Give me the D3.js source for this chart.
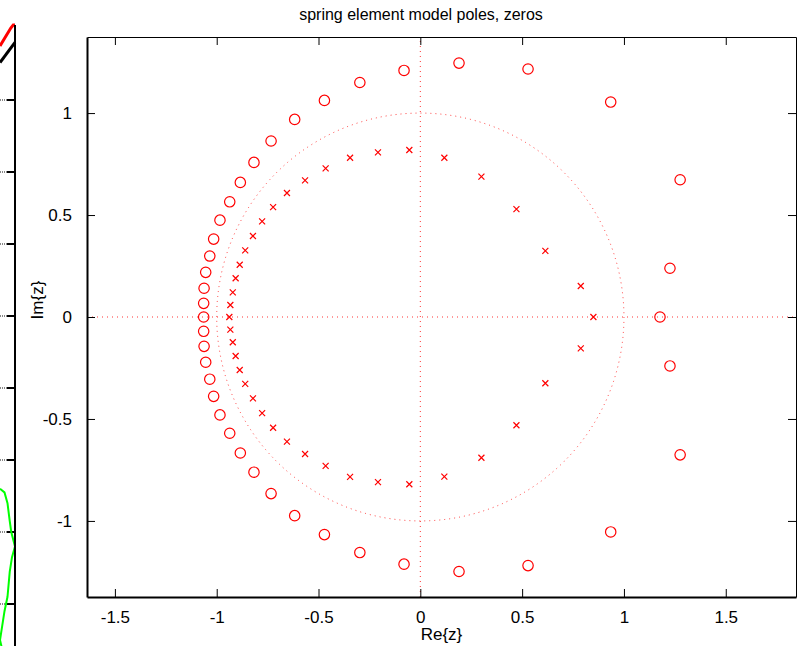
<!DOCTYPE html>
<html>
<head>
<meta charset="utf-8">
<script src="https://cdn.jsdelivr.net/npm/d3@7"></script>
<style>
  html, body { margin: 0; padding: 0; background: #fff; }
  svg { display: block; }
  text { font-family: "Liberation Sans", Arial, Helvetica, sans-serif; }
</style>
</head>
<body>
<svg id="chart" width="802" height="646"></svg>
<script>
// ---- Data ----
const titleText = "spring element model poles, zeros";
const xLabel = "Re{z}";
const yLabel = "Im{z}";
const xTicks = [-1.5, -1, -0.5, 0, 0.5, 1, 1.5];
const yTicks = [-1, -0.5, 0, 0.5, 1];
const xDomain = [-1.637, 1.845];
const yDomain = [-1.373, 1.373];

// zeros (circles)
const zerosRe = [
  -0.080, -0.297, -0.471, -0.617, -0.733, -0.817, -0.884, -0.936, -0.984, -1.015, -1.034, -1.054, -1.062, -1.064,
  -1.064,
  -1.064, -1.062, -1.054, -1.034, -1.015, -0.984, -0.936, -0.884, -0.817, -0.733, -0.617, -0.471, -0.297, -0.080,
  0.190, 0.529, 0.935, 1.276, 1.226, 1.177, 1.226, 1.276, 0.935, 0.529, 0.190
];
const zerosIm = [
  1.209, 1.150, 1.062, 0.969, 0.863, 0.758, 0.660, 0.565, 0.475, 0.382, 0.299, 0.219, 0.141, 0.067,
  0.000,
  -0.070, -0.144, -0.222, -0.305, -0.389, -0.480, -0.570, -0.667, -0.761, -0.866, -0.974, -1.067, -1.155, -1.212,
  1.245, 1.216, 1.054, 0.673, 0.239, 0.000, -0.240, -0.676, -1.054, -1.219, -1.248
];
// poles (crosses)
const polesRe = [
  -0.054, -0.208, -0.345, -0.465, -0.566, -0.655, -0.723, -0.777, -0.822, -0.860, -0.887, -0.907, -0.921, -0.933,
  -0.938,
  -0.933, -0.921, -0.907, -0.887, -0.860, -0.822, -0.777, -0.723, -0.655, -0.566, -0.465, -0.345, -0.208, -0.054,
  0.118, 0.300, 0.472, 0.614, 0.788, 0.850, 0.788, 0.614, 0.472, 0.300, 0.118
];
const polesIm = [
  0.819, 0.807, 0.781, 0.729, 0.670, 0.608, 0.539, 0.469, 0.397, 0.327, 0.256, 0.190, 0.121, 0.059,
  0.000,
  -0.062, -0.124, -0.191, -0.260, -0.328, -0.399, -0.471, -0.543, -0.611, -0.672, -0.730, -0.784, -0.810, -0.820,
  0.781, 0.688, 0.529, 0.324, 0.152, 0.000, -0.154, -0.325, -0.531, -0.690, -0.783
];

// fragment of neighbouring chart at the far left edge
const stripTicks = [0, 1, 2, 3, 4, 5, 6, 7];
const stripRed = [[0, -0.75], [0.72, -1.0], [0.88, -1.04], [1, -1.04]];
const stripBlack = [[0, -0.52], [1, -0.8]];
const stripGreenX = [0, 0.3, 0.5, 0.65, 0.75, 1.0, 0.8, 0.65, 0.5, 0.3, 0.15, 0, 0.2, 0.4, 0.5];
const stripGreenY = [5.4, 5.45, 5.6, 5.85, 6.0, 6.2, 6.35, 6.55, 6.9, 7.1, 7.3, 7.5, 7.68, 7.78, 7.9];

// ---- Drawing ----
const svg = d3.select("#chart");
const box = { left: 87, right: 796, top: 37, bottom: 597 };
const red = "#ff0000";
const fontSize = "17px";

const x = d3.scaleLinear().domain(xDomain).range([box.left, box.right]);
const y = d3.scaleLinear().domain(yDomain).range([box.bottom, box.top]);

const plot = svg.append("g");

svg.append("clipPath").attr("id", "clip").append("rect")
  .attr("x", box.left).attr("y", box.top)
  .attr("width", box.right - box.left).attr("height", box.bottom - box.top);

const inner = plot.append("g").attr("clip-path", "url(#clip)");

// dotted reference lines: unit circle and axes
inner.append("ellipse")
  .attr("cx", x(0)).attr("cy", y(0))
  .attr("rx", x(1) - x(0)).attr("ry", y(0) - y(1))
  .attr("fill", "none").attr("stroke", red).attr("stroke-opacity", 0.75)
  .attr("stroke-width", 1).attr("stroke-dasharray", "1,4");
inner.append("line")
  .attr("x1", x(xDomain[0])).attr("x2", x(xDomain[1]))
  .attr("y1", y(0)).attr("y2", y(0))
  .attr("stroke", red).attr("stroke-opacity", 0.8).attr("stroke-dasharray", "1,4");
inner.append("line")
  .attr("x1", x(0)).attr("x2", x(0))
  .attr("y1", y(yDomain[0])).attr("y2", y(yDomain[1]))
  .attr("stroke", red).attr("stroke-opacity", 0.8).attr("stroke-dasharray", "1,4");

// zeros
const zeros = zerosRe.map((r, i) => ({ re: r, im: zerosIm[i] }));
inner.selectAll("circle.zero").data(zeros).enter().append("circle")
  .attr("class", "zero")
  .attr("cx", d => x(d.re)).attr("cy", d => y(d.im)).attr("r", 5.2)
  .attr("fill", "none").attr("stroke", red).attr("stroke-width", 1.2);

// poles
const poles = polesRe.map((r, i) => ({ re: r, im: polesIm[i] }));
const s = 3;
inner.selectAll("path.pole").data(poles).enter().append("path")
  .attr("class", "pole")
  .attr("d", d => {
    const cx = x(d.re), cy = y(d.im);
    return `M${cx - s},${cy - s}L${cx + s},${cy + s}M${cx - s},${cy + s}L${cx + s},${cy - s}`;
  })
  .attr("fill", "none").attr("stroke", red).attr("stroke-width", 1.2);

// axes (inward ticks on all sides, MATLAB style)
const tickLen = 8;
const axBottom = d3.axisBottom(x).tickValues(xTicks).tickSizeInner(-tickLen).tickSizeOuter(0)
  .tickPadding(tickLen + 6).tickFormat(d3.format("~g"));
const axTop = d3.axisTop(x).tickValues(xTicks).tickSizeInner(-tickLen).tickSizeOuter(0).tickFormat("");
const axLeft = d3.axisLeft(y).tickValues(yTicks).tickSizeInner(-tickLen).tickSizeOuter(0)
  .tickPadding(tickLen + 7).tickFormat(d3.format("~g"));
const axRight = d3.axisRight(y).tickValues(yTicks).tickSizeInner(-tickLen).tickSizeOuter(0).tickFormat("");

function styleAxis(g, w) {
  g.select(".domain").attr("stroke", "#000").attr("stroke-width", w);
  g.selectAll(".tick line").attr("stroke", "#000").attr("stroke-width", 1);
  g.selectAll(".tick text").attr("fill", "#000").style("font-size", fontSize)
    .style("font-family", "'Liberation Sans', Arial, Helvetica, sans-serif");
}
const gB = plot.append("g").attr("transform", `translate(0,${box.bottom})`).call(axBottom);
styleAxis(gB, 2);
gB.selectAll(".tick text").text(d => d < 0 ? "-" + Math.abs(d) : d);
const gT = plot.append("g").attr("transform", `translate(0,${box.top})`).call(axTop);
styleAxis(gT, 1);
const gL = plot.append("g").attr("transform", `translate(${box.left},0)`).call(axLeft);
styleAxis(gL, 2);
gL.selectAll(".tick text").text(d => d < 0 ? "-" + Math.abs(d) : d);
const gR = plot.append("g").attr("transform", `translate(${box.right},0)`).call(axRight);
styleAxis(gR, 1);

// title and labels
svg.append("text").attr("x", 421).attr("y", 20).attr("text-anchor", "middle")
  .style("font-size", "16px").attr("fill", "#000").text(titleText);
svg.append("text").attr("x", (box.left + box.right) / 2).attr("y", 640).attr("text-anchor", "middle")
  .style("font-size", fontSize).attr("fill", "#000").text(xLabel);
svg.append("text").attr("transform", `translate(43,${300}) rotate(-90)`).attr("text-anchor", "middle")
  .style("font-size", fontSize).attr("fill", "#000").text(yLabel);

// ---- left strip: edge of a neighbouring figure ----
const sx = d3.scaleLinear().domain([0, 1]).range([0, 15]);
const sy = d3.scaleLinear().domain([0, 1]).range([100, 172]);
const strip = svg.append("g");
stripTicks.forEach(t => {
  strip.append("line").attr("x1", 0).attr("x2", 9).attr("y1", sy(t)).attr("y2", sy(t))
    .attr("stroke", "#888").attr("stroke-width", 2).attr("stroke-dasharray", "1,1");
  strip.append("line").attr("x1", 7).attr("x2", 15).attr("y1", sy(t)).attr("y2", sy(t))
    .attr("stroke", "#000").attr("stroke-width", 2);
});
const lineGen = d3.line().x(d => sx(d[0])).y(d => sy(d[1]));
strip.append("path").attr("d", lineGen(stripBlack)).attr("fill", "none").attr("stroke", "#000").attr("stroke-width", 3);
strip.append("path").attr("d", lineGen(stripRed)).attr("fill", "none").attr("stroke", red).attr("stroke-width", 3);
strip.append("path").attr("d", lineGen(stripGreenX.map((v, i) => [v, stripGreenY[i]])))
  .attr("fill", "none").attr("stroke", "#00ff00").attr("stroke-width", 2);
strip.append("line").attr("x1", 15).attr("x2", 15).attr("y1", sy(-1.04)).attr("y2", 646)
  .attr("stroke", "#000").attr("stroke-width", 2);
</script>
</body>
</html>
